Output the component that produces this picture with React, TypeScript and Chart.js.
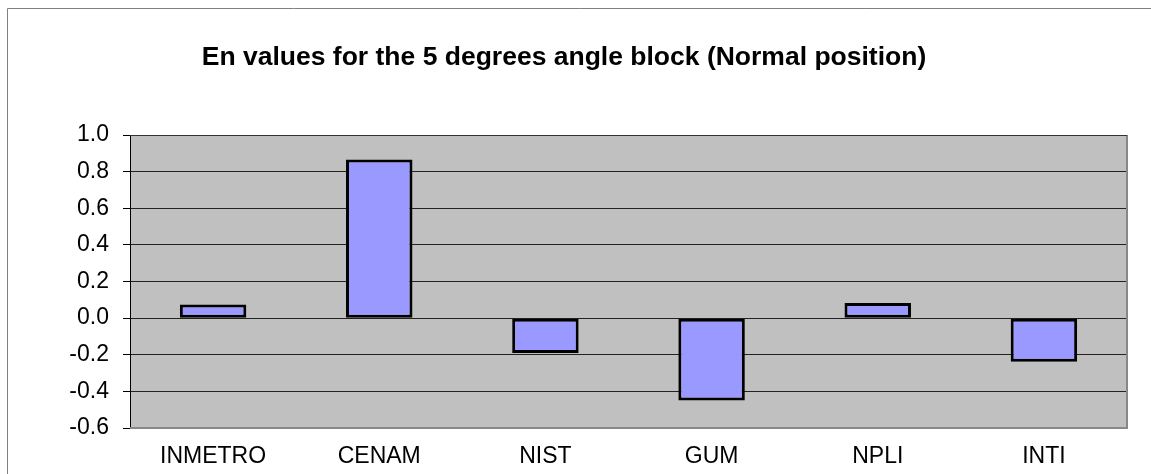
import React, { useEffect, useRef } from "react";
import { Chart, registerables } from "chart.js";

Chart.register(...registerables);

const categories = ["INMETRO", "CENAM", "NIST", "GUM", "NPLI", "INTI"];
const enValues = [0.074, 0.866, -0.19, -0.45, 0.082, -0.238];
const titleText = "En values for the 5 degrees angle block (Normal position)";
const yMin = -0.6;
const yMax = 1.0;
const yStep = 0.2;

const FONT = "'Liberation Sans', Arial, sans-serif";

const decorPlugin = {
  id: "decor",
  beforeDraw(chart: any) {
    const { ctx, chartArea } = chart;
    ctx.save();
    ctx.fillStyle = "#ffffff";
    ctx.fillRect(0, 0, chart.width, chart.height);
    ctx.fillStyle = "#C0C0C0";
    ctx.fillRect(chartArea.left, chartArea.top, chartArea.right - chartArea.left, chartArea.bottom - chartArea.top);
    // outer chart border
    ctx.strokeStyle = "#808080";
    ctx.lineWidth = 1;
    ctx.beginPath();
    ctx.moveTo(7.5, chart.height);
    ctx.lineTo(7.5, 8.5);
    ctx.lineTo(chart.width, 8.5);
    ctx.stroke();
    // title
    ctx.fillStyle = "#000000";
    ctx.font = "bold 26.5px " + FONT;
    ctx.textAlign = "center";
    ctx.textBaseline = "alphabetic";
    ctx.fillText(titleText, 564, 65);
    ctx.restore();
  },
  afterDatasetsDraw(chart: any) {
    const { ctx, chartArea } = chart;
    ctx.save();
    ctx.strokeStyle = "#888888";
    ctx.lineWidth = 2;
    ctx.beginPath();
    ctx.moveTo(chartArea.left, chartArea.bottom);
    ctx.lineTo(chartArea.right, chartArea.bottom);
    ctx.lineTo(chartArea.right, chartArea.top);
    ctx.stroke();
    ctx.strokeStyle = "#333333";
    ctx.lineWidth = 1;
    ctx.beginPath();
    ctx.moveTo(chartArea.left, chartArea.top + 0.5);
    ctx.lineTo(chartArea.right, chartArea.top + 0.5);
    ctx.stroke();
    ctx.restore();
  },
};

export default function App() {
  const ref = useRef<HTMLCanvasElement>(null);
  useEffect(() => {
    if (!ref.current) return;
    const chart = new Chart(ref.current, {
      type: "bar",
      data: {
        labels: categories,
        datasets: [
          {
            data: enValues,
            backgroundColor: "#9999FF",
            borderColor: "#000000",
            borderWidth: 3,
            borderSkipped: false,
            barPercentage: 0.4,
            categoryPercentage: 1,
          },
        ],
      },
      options: {
        animation: false,
        responsive: false,
        devicePixelRatio: 1,
        layout: { padding: { left: 0, top: 135, right: 24, bottom: 0 } },
        plugins: {
          legend: { display: false },
          title: { display: false },
          tooltip: { enabled: false },
        },
        scales: {
          x: {
            grid: { display: false, drawTicks: false },
            border: { display: false },
            ticks: {
              color: "#000000",
              font: { family: FONT, size: 23 },
              padding: 15,
              maxRotation: 0,
              autoSkip: false,
            },
            afterFit: (scale: any) => {
              scale.height = 46;
            },
          },
          y: {
            min: yMin,
            max: yMax,
            grid: {
              color: "#222222",
              lineWidth: 1,
              tickLength: 7,
              tickColor: "#000000",
              drawTicks: true,
            },
            border: { display: true, color: "#000000", width: 1 },
            ticks: {
              stepSize: yStep,
              color: "#000000",
              font: { family: FONT, size: 23 },
              padding: 14,
              callback: (v: any) => {
                const n = Number(v);
                return (Math.abs(n) < 1e-9 ? 0 : n).toFixed(1);
              },
            },
            afterFit: (scale: any) => {
              scale.width = 130;
            },
          },
        },
      },
      plugins: [decorPlugin],
    });
    return () => chart.destroy();
  }, []);
  return (
    <div style={{ position: "fixed", left: 0, top: 0, width: 1151, height: 474, background: "#fff" }}>
      <canvas ref={ref} width={1151} height={474} style={{ display: "block", width: 1151, height: 474 }} />
    </div>
  );
}
